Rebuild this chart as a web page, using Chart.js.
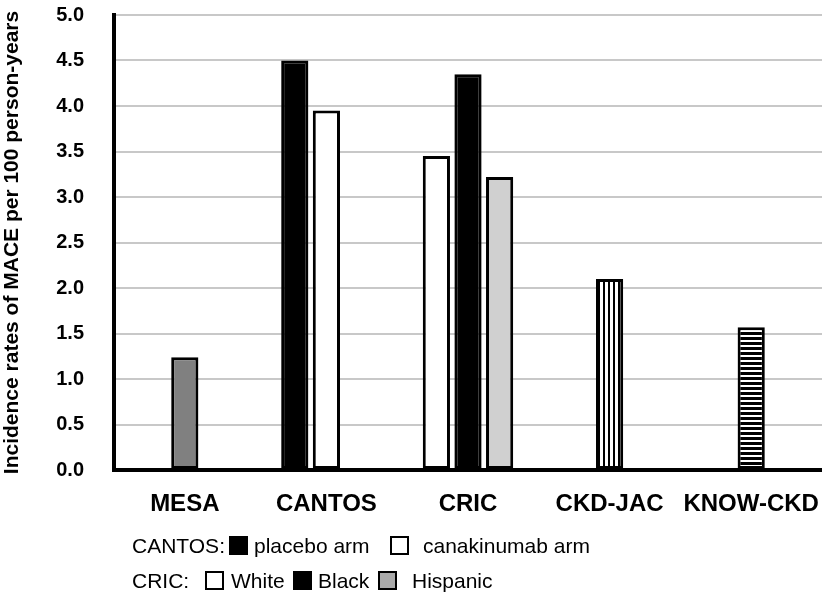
<!DOCTYPE html>
<html>
<head>
<meta charset="utf-8">
<script src="https://cdn.jsdelivr.net/npm/chart.js@4/dist/chart.umd.min.js"></script>
<style>
  body { margin: 0; overflow: hidden; background: #fff; }
  #wrap { position: relative; width: 822px; height: 595px; }
  .lg { position: absolute; font: 21px "Liberation Sans", Arial, sans-serif; color: #000; line-height: 24px; white-space: nowrap; }
  .sq { position: absolute; width: 19px; height: 19px; box-sizing: border-box; border: 2.5px solid #000; }
</style>
</head>
<body>
<div id="wrap">
  <canvas id="Chart" width="822" height="595"></canvas>

  <!-- legend under the chart -->
  <span class="lg" style="left:132px; top:534px">CANTOS:</span>
  <span class="sq" style="left:229px; top:536px; background:#000"></span>
  <span class="lg" style="left:254px; top:534px">placebo arm</span>
  <span class="sq" style="left:390px; top:536px; background:#fff"></span>
  <span class="lg" style="left:423px; top:534px">canakinumab arm</span>

  <span class="lg" style="left:132px; top:569px">CRIC:</span>
  <span class="sq" style="left:205px; top:571px; background:#fff"></span>
  <span class="lg" style="left:231px; top:569px">White</span>
  <span class="sq" style="left:293px; top:571px; background:#000"></span>
  <span class="lg" style="left:318px; top:569px">Black</span>
  <span class="sq" style="left:378px; top:571px; background:#aaa"></span>
  <span class="lg" style="left:412px; top:569px">Hispanic</span>
</div>
<script>
// studies on the x axis
const studies = ["MESA", "CANTOS", "CRIC", "CKD-JAC", "KNOW-CKD"];

// three bar slots per study (like the excel original)
// left slot: CANTOS placebo arm, CRIC White
const leftSlot = [null, 4.5, 3.45, null, null];
// centre slot: MESA, CANTOS canakinumab arm, CRIC Black, CKD-JAC, KNOW-CKD
const centreSlot = [1.24, 3.95, 4.35, 2.1, 1.57];
// right slot: CRIC Hispanic
const rightSlot = [null, null, 3.22, null, null];

const yTitle = "Incidence rates of MACE per 100 person-years";

Chart.defaults.font.family = '"Liberation Sans", Arial, sans-serif';
Chart.defaults.color = "#000";

const c = document.getElementById("Chart");
const ctx = c.getContext("2d");

// striped fills for CKD-JAC and KNOW-CKD
function stripes(vertical) {
  const p = document.createElement("canvas");
  p.width = 5;
  p.height = 5;
  const pc = p.getContext("2d");
  pc.fillStyle = "#fff";
  pc.fillRect(0, 0, 5, 5);
  pc.fillStyle = "#000";
  if (vertical) pc.fillRect(3, 0, 2, 5);
  else pc.fillRect(0, 2, 5, 3);
  return ctx.createPattern(p, "repeat");
}

const leftColours = [null, "#000", "#fff", null, null];
const centreColours = ["#808080", "#fff", "#000", stripes(true), stripes(false)];
const rightColours = [null, null, "#d0d0d0", null, null];

const data = {
  labels: studies,
  datasets: [
    { data: leftSlot, backgroundColor: leftColours },
    { data: centreSlot, backgroundColor: centreColours },
    { data: rightSlot, backgroundColor: rightColours },
  ],
};

const config = {
  type: "bar",
  data,
  options: {
    responsive: false,
    animation: false,
    layout: { padding: 0 },
    datasets: {
      bar: {
        categoryPercentage: 0.67,
        barPercentage: 0.86,
        borderColor: "#000",
        borderWidth: 3,
        borderSkipped: false,
      },
    },
    plugins: {
      legend: { display: false },
      tooltip: { enabled: false },
    },
    scales: {
      x: {
        grid: { display: false, tickLength: 17 },
        border: { color: "#000", width: 4 },
        ticks: {
          font: { size: 24, weight: "bold" },
          padding: 3,
          maxRotation: 0,
          autoSkip: false,
        },
        afterFit: (s) => {
          s.height = 125;
        },
      },
      y: {
        min: 0,
        max: 5,
        ticks: {
          stepSize: 0.5,
          callback: (v) => v.toFixed(1),
          font: { size: 20, weight: "bold" },
          padding: 3,
        },
        grid: {
          color: "#c8c8c8",
          lineWidth: 2,
          tickLength: 27,
          tickColor: "rgba(0,0,0,0)",
        },
        border: { color: "#000", width: 4 },
        title: {
          display: true,
          text: yTitle,
          font: { size: 21, weight: "bold" },
          padding: 0,
        },
        afterFit: (s) => {
          s.width = 114;
        },
      },
    },
  },
};
new Chart(c, config);
</script>
</body>
</html>
